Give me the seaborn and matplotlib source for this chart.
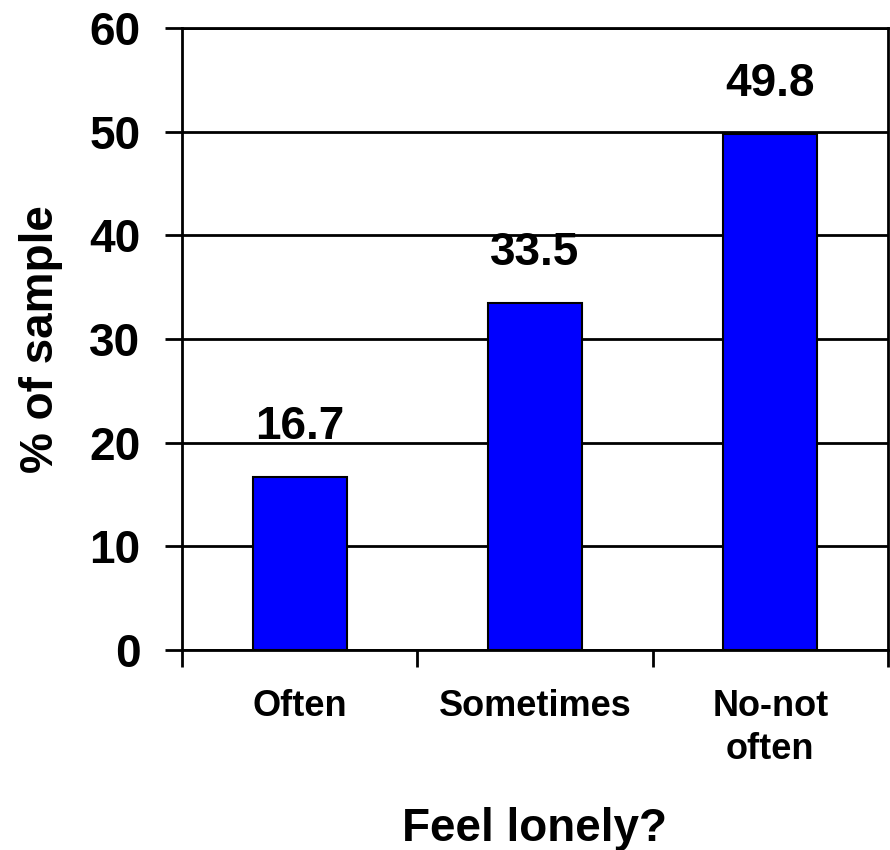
import matplotlib
matplotlib.use('Agg')
import matplotlib.pyplot as plt
import pandas as pd
import seaborn as sns

# values
categories = ['Often', 'Sometimes', 'No-not\noften']
percentages = [16.7, 33.5, 49.8]
yTicks = [0, 10, 20, 30, 40, 50, 60]

df = pd.DataFrame({'answer': categories, 'pct': percentages})

sns.set_theme(style="white", rc={'text.color': 'black', 'axes.labelcolor': 'black',
                                 'xtick.color': 'black', 'ytick.color': 'black'})
plt.rcParams['font.family'] = ['Liberation Sans', 'DejaVu Sans']
plt.rcParams['font.weight'] = 'bold'

fig = plt.figure(figsize=(8.9, 8.5), dpi=100)
ax = fig.add_axes([182 / 890, 1 - 650 / 850, 706 / 890, 622 / 850])

sns.barplot(data=df, x='answer', y='pct', color='#0000FF', saturation=1,
            edgecolor='black', linewidth=1.5, width=0.4, ax=ax)

ax.set_xlim(-0.5, 2.5)
ax.set_ylim(0, 60)
ax.set_yticks(yTicks)
ax.set_yticklabels([str(t) for t in yTicks], fontsize=33, fontweight='bold')
ax.tick_params(axis='y', direction='out', length=12, width=2, color='black',
               labelcolor='black', pad=18, left=True)

# category boundaries as major ticks, names as minor ticks
ax.set_xticks([-0.5, 0.5, 1.5, 2.5])
ax.set_xticklabels([])
ax.set_xticks([0, 1, 2], minor=True)
ax.set_xticklabels(categories, minor=True, fontsize=26, fontweight='bold', linespacing=1.3)
ax.tick_params(axis='x', which='major', direction='out', length=12, width=2, color='black', bottom=True)
ax.tick_params(axis='x', which='minor', length=0, pad=28, labelcolor='black')

ax.yaxis.grid(True, color='black', linewidth=2)
ax.xaxis.grid(False)
ax.set_axisbelow(True)
for side in ['left', 'bottom', 'right', 'top']:
    ax.spines[side].set_visible(True)
    ax.spines[side].set_color('black')
    ax.spines[side].set_linewidth(2)

ax.set_ylabel('% of sample', fontsize=33, fontweight='bold', color='black')
ax.set_xlabel('Feel lonely?', fontsize=33, fontweight='bold', color='black')
ax.yaxis.set_label_coords(-0.168, 0.5)
ax.xaxis.set_label_coords(0.5, -0.252)

for container in ax.containers:
    ax.bar_label(container, fmt='%.1f', padding=20, fontsize=33, fontweight='bold', color='black')

fig.savefig('out.png', dpi=100)
